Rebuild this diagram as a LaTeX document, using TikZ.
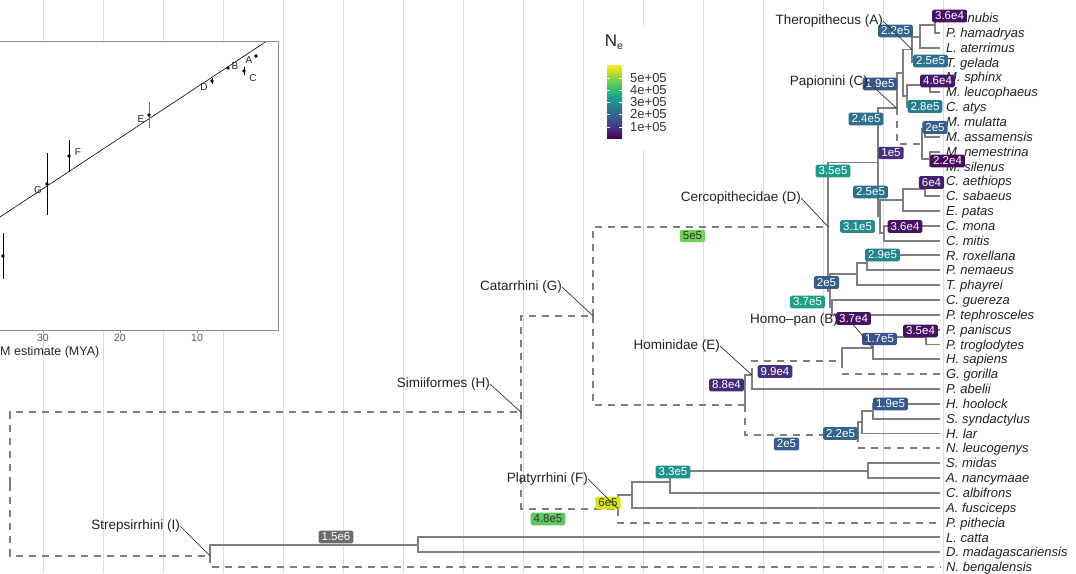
\documentclass[tikz,border=0pt]{standalone}
\usepackage{fontspec}
\setmainfont{Liberation Sans}
\usetikzlibrary{calc}

% tree and panel colours
\definecolor{treegray}{HTML}{7F7F7F}
\definecolor{gridgray}{HTML}{DCDCDC}
\definecolor{txtdark}{HTML}{222222}
% viridis-based fills for the Ne labels
\definecolor{vA}{HTML}{46085C}
\definecolor{vB}{HTML}{471063}
\definecolor{vC}{HTML}{481769}
\definecolor{vD}{HTML}{481F70}
\definecolor{vE}{HTML}{482878}
\definecolor{vF}{HTML}{472F7D}
\definecolor{vG}{HTML}{3B528B}
\definecolor{vH}{HTML}{375A8C}
\definecolor{vI}{HTML}{355E8D}
\definecolor{vJ}{HTML}{31668E}
\definecolor{vK}{HTML}{2E6E8E}
\definecolor{vL}{HTML}{2C728E}
\definecolor{vM}{HTML}{277F8E}
\definecolor{vN}{HTML}{25838E}
\definecolor{vO}{HTML}{238A8D}
\definecolor{vP}{HTML}{21918C}
\definecolor{vQ}{HTML}{1F9A8A}
\definecolor{vR}{HTML}{1FA188}
\definecolor{vS}{HTML}{5EC962}
\definecolor{vT}{HTML}{73D056}
\definecolor{vU}{HTML}{DCE319}
\definecolor{vNA}{HTML}{6B6B6B}
% colour bar stops
\definecolor{cb0}{HTML}{440154}
\definecolor{cb1}{HTML}{482475}
\definecolor{cb2}{HTML}{414487}
\definecolor{cb3}{HTML}{355F8D}
\definecolor{cb4}{HTML}{2A788E}
\definecolor{cb5}{HTML}{21918C}
\definecolor{cb6}{HTML}{22A884}
\definecolor{cb7}{HTML}{44BF70}
\definecolor{cb8}{HTML}{7AD151}
\definecolor{cb9}{HTML}{BDDF26}
\definecolor{cb10}{HTML}{FDE725}

% internal node: x position given, y halfway between two children
\newcommand\treenode[4]{\coordinate (#1m) at ($(#3)!0.5!(#4)$);\coordinate (#1) at (#2,0 |- #1m);}
\newcommand\sedge[2]{\draw[br] (#1) |- (#2);}
\newcommand\dedge[2]{\draw[brd] (#1) |- (#2);}
\newcommand\nebox[6][]{\node[nb,fill=#5,#1] (#2) at (#3,#4) {#6};}

\begin{document}
\begin{tikzpicture}[x=1pt,y=-1pt,
  br/.style={draw=treegray,line width=1.9pt},
  brd/.style={br,dash pattern=on 7pt off 6pt},
  gridl/.style={draw=gridgray,line width=0.9pt},
  tip/.style={anchor=base west,inner sep=0pt,font=\fontsize{13}{14}\selectfont\itshape,text=txtdark},
  nb/.style={rounded corners=1.5pt,inner xsep=3pt,inner ysep=2.2pt,font=\fontsize{11.5}{12}\selectfont,text=white},
  darktext/.style={text=black!80},
  clab/.style={inner sep=0pt,font=\fontsize{13.5}{15}\selectfont,text=txtdark},
  lead/.style={draw=black!80,line width=0.7pt},
  ins/.style={inner sep=0pt,font=\fontsize{10}{11}\selectfont,text=black!85},
  errb/.style={draw=black,line width=0.8pt},
  dot/.style={circle,fill=black,inner sep=0pt,minimum size=3.8pt},
  legl/.style={anchor=west,inner sep=0pt,font=\fontsize{13}{13}\selectfont,text=black!80},
]
\clip (0,0) rectangle (1076,573);
\fill[white] (0,0) rectangle (1076,573);

% vertical time grid
\foreach \gx in {43,103,...,943} \draw[gridl] (\gx,0) -- (\gx,573);

% ---------- inset: calibration plot ----------
\fill[white] (-5,41) rectangle (278,330);
\begin{scope}
  \clip (-5,41) rectangle (278,330);
  \draw[black,line width=0.6pt] (-5,220.3) -- (270,39);
  \draw[errb] (3,233) -- (3,279);
  \draw[errb] (47,153) -- (47,215);
  \draw[errb] (69,140) -- (69,172);
  \draw[errb,draw=black!55] (149,102) -- (149,128);
  \draw[errb] (212,78) -- (212,84);
  \draw[errb] (244,67) -- (244,75);
  \node[dot] (pH) at (3,256) {};
  \node[dot] (pG) at (47,184) {};
  \node[dot] (pF) at (69,156) {};
  \node[dot] (pE) at (149,115) {};
  \node[dot] (pD) at (212,81) {};
  \node[dot] (pB) at (228,68) {};
  \node[dot] (pC) at (244,71) {};
  \node[dot] (pA) at (256,56) {};
  \node[ins] (lA) at (249,60) {A};
  \node[ins] (lB) at (235,66) {B};
  \node[ins] (lC) at (253,78) {C};
  \node[ins] (lD) at (204,87) {D};
  \node[ins] (lE) at (141,119) {E};
  \node[ins] (lF) at (78,152) {F};
  \node[ins] (lG) at (38,190) {G};
\end{scope}
\draw[draw=black!45,line width=0.8pt] (-5,41) rectangle (278,330);
\foreach \tx/\tl in {43/30,120/20,197/10}{
  \draw[draw=black!45,line width=0.6pt] (\tx,330) -- (\tx,332.5);
  \node[inner sep=0pt,font=\fontsize{10.5}{11}\selectfont,text=black!65] (tk\tl) at (\tx,338) {\tl};
}
\node[anchor=west,inner sep=0pt,font=\fontsize{12.5}{13}\selectfont,text=black!85] (xtitle) at (0,352) {M estimate (MYA)};

% ---------- legend ----------
\fill[white] (590,27) rectangle (700,150);
\node[inner sep=0pt,font=\fontsize{17}{17}\selectfont,text=black!85] (netitle) at (614,42) {N\raisebox{-0.35ex}{\fontsize{10.5}{10.5}\selectfont e}};
\foreach \k [evaluate=\k as \ka using int(\k+1)] in {0,...,9}{
  \shade[bottom color=cb\k,top color=cb\ka] (607,{138-7.3*\k}) rectangle (622,{138-7.3*(\k+1)+0.3});
}
\foreach \ly/\lt in {78/5e+05,90/4e+05,102/3e+05,114.5/2e+05,127/1e+05}{
  \draw[white,line width=0.7pt] (607,\ly) -- (610,\ly) (619,\ly) -- (622,\ly);
  \node[legl] (leg\lt) at (630,\ly) {\lt};
}

% ---------- tips ----------
\foreach \i/\nm in {1/P. anubis,2/P. hamadryas,3/L. aterrimus,4/T. gelada,5/M. sphinx,
  6/M. leucophaeus,7/C. atys,8/M. mulatta,9/M. assamensis,10/M. nemestrina,
  11/M. silenus,12/C. aethiops,13/C. sabaeus,14/E. patas,15/C. mona,16/C. mitis,
  17/R. roxellana,18/P. nemaeus,19/T. phayrei,20/C. guereza,21/P. tephrosceles,
  22/P. paniscus,23/P. troglodytes,24/H. sapiens,25/G. gorilla,26/P. abelii,
  27/H. hoolock,28/S. syndactylus,29/H. lar,30/N. leucogenys,31/S. midas,
  32/A. nancymaae,33/C. albifrons,34/A. fusciceps,35/P. pithecia,36/L. catta,
  37/D. madagascariensis,38/N. bengalensis}{
  \pgfmathsetmacro\ty{18+14.84*(\i-1)}
  \coordinate (t\i) at (940,\ty);
  \node[tip] (tl\i) at (946,\ty+4.6) {\nm};
}

% ---------- internal nodes ----------
% Papionini
\treenode{papio}{935}{t1}{t2}
\treenode{pl}{920}{papio}{t3}
\treenode{papina}{912}{pl}{t4}
\treenode{mand}{930}{t5}{t6}
\treenode{mc}{907}{mand}{t7}
\treenode{pap}{903}{papina}{mc}
\treenode{maca}{925}{t8}{t9}
\treenode{macb}{930}{t10}{t11}
\treenode{macaca}{922}{maca}{macb}
\treenode{papionini}{897}{pap}{macaca}
% Cercopithecini
\treenode{chl}{925}{t12}{t13}
\treenode{chp}{903}{chl}{t14}
\treenode{mm}{884}{t15}{t16}
\treenode{cerc}{880}{chp}{mm}
\treenode{cercinae}{878}{papionini}{cerc}
% Colobinae
\treenode{rn}{867}{t17}{t18}
\treenode{asian}{857}{rn}{t19}
\treenode{afr}{832}{t20}{t21}
\treenode{colob}{830}{asian}{afr}
\treenode{cercid}{828}{cercinae}{colob}
% Hominoidea
\treenode{pan}{926}{t22}{t23}
\treenode{hp}{873}{pan}{t24}
\treenode{hgor}{842}{hp}{t25}
\treenode{homid}{752}{hgor}{t26}
\treenode{hs}{873}{t27}{t28}
\treenode{hl}{862}{hs}{t29}
\treenode{hyl}{858}{hl}{t30}
\treenode{hoid}{745}{homid}{hyl}
\treenode{catar}{593}{cercid}{hoid}
% Platyrrhini
\treenode{sa}{868}{t31}{t32}
\treenode{sac}{670}{sa}{t33}
\treenode{saca}{632}{sac}{t34}
\treenode{platy}{618}{saca}{t35}
\treenode{simii}{521}{catar}{platy}
% Strepsirrhini and root
\treenode{lem}{418}{t36}{t37}
\treenode{strep}{210}{lem}{t38}
\treenode{root}{10}{simii}{strep}

% ---------- branches ----------
\sedge{papio}{t1}\sedge{papio}{t2}
\sedge{pl}{papio}\sedge{pl}{t3}
\sedge{papina}{pl}\sedge{papina}{t4}
\sedge{mand}{t5}\sedge{mand}{t6}
\sedge{mc}{mand}\sedge{mc}{t7}
\sedge{pap}{papina}\sedge{pap}{mc}
\sedge{maca}{t8}\sedge{maca}{t9}
\sedge{macb}{t10}\sedge{macb}{t11}
\sedge{macaca}{maca}\sedge{macaca}{macb}
\sedge{papionini}{pap}\dedge{papionini}{macaca}
\sedge{chl}{t12}\sedge{chl}{t13}
\sedge{chp}{chl}\sedge{chp}{t14}
\sedge{mm}{t15}\sedge{mm}{t16}
\sedge{cerc}{chp}\sedge{cerc}{mm}
\sedge{cercinae}{papionini}\sedge{cercinae}{cerc}
\sedge{rn}{t17}\sedge{rn}{t18}
\sedge{asian}{rn}\sedge{asian}{t19}
\sedge{afr}{t20}\sedge{afr}{t21}
\sedge{colob}{asian}\sedge{colob}{afr}
\sedge{cercid}{cercinae}\sedge{cercid}{colob}
\sedge{pan}{t22}\sedge{pan}{t23}
\sedge{hp}{pan}\sedge{hp}{t24}
\sedge{hgor}{hp}\dedge{hgor}{t25}
\dedge{homid}{hgor}\sedge{homid}{t26}
\sedge{hs}{t27}\sedge{hs}{t28}
\sedge{hl}{hs}\sedge{hl}{t29}
\sedge{hyl}{hl}\dedge{hyl}{t30}
\sedge{hoid}{homid}\dedge{hoid}{hyl}
\dedge{catar}{cercid}\dedge{catar}{hoid}
\sedge{sa}{t31}\sedge{sa}{t32}
\sedge{sac}{sa}\sedge{sac}{t33}
\sedge{saca}{sac}\sedge{saca}{t34}
\sedge{platy}{saca}\dedge{platy}{t35}
\dedge{simii}{catar}\dedge{simii}{platy}
\sedge{lem}{t36}\sedge{lem}{t37}
\sedge{strep}{lem}\dedge{strep}{t38}
\dedge{root}{simii}\dedge{root}{strep}

% ---------- Ne labels ----------
\nebox{b1}{949.5}{16}{vB}{3.6e4}
\nebox{b2}{895.5}{31}{vJ}{2.2e5}
\nebox{b3}{930.5}{61}{vL}{2.5e5}
\nebox{b4}{937.5}{81}{vC}{4.6e4}
\nebox{b5}{880}{84}{vH}{1.9e5}
\nebox{b6}{925}{106.5}{vM}{2.8e5}
\nebox{b7}{866}{119}{vK}{2.4e5}
\nebox{b8}{935}{127.5}{vI}{2e5}
\nebox{b9}{891}{153}{vF}{1e5}
\nebox{b10}{947.5}{161}{vA}{2.2e4}
\nebox{b11}{833}{171}{vQ}{3.5e5}
\nebox{b12}{931.5}{182.5}{vD}{6e4}
\nebox{b13}{870.5}{192}{vL}{2.5e5}
\nebox{b14}{857.5}{226.5}{vO}{3.1e5}
\nebox{b15}{905}{226.5}{vB}{3.6e4}
\nebox[darktext]{b16}{692.5}{236}{vT}{5e5}
\nebox{b17}{882.5}{255}{vN}{2.9e5}
\nebox{b18}{826.5}{282.5}{vI}{2e5}
\nebox{b19}{807.5}{302}{vR}{3.7e5}
\nebox{b21}{920.5}{331}{vB}{3.5e4}
\nebox{b22}{879.5}{339}{vG}{1.7e5}
\nebox{b23}{775}{371.5}{vF}{9.9e4}
\nebox{b24}{726.5}{385}{vE}{8.8e4}
\nebox{b25}{890.5}{404}{vH}{1.9e5}
\nebox{b26}{840.5}{433.5}{vJ}{2.2e5}
\nebox{b27}{786.5}{444}{vI}{2e5}
\nebox{b28}{673}{472}{vP}{3.3e5}
\nebox[darktext]{b29}{608}{503}{vU}{6e5}
\nebox[darktext]{b30}{548}{519}{vS}{4.8e5}
\nebox{b31}{336}{537}{vNA}{1.5e6}

% ---------- clade labels ----------
\node[clab,anchor=east] (cA) at (883,21) {Theropithecus (A)};
\node[clab,anchor=east] (cC) at (868,82) {Papionini (C)};
\node[clab,anchor=east] (cD) at (801,198) {Cercopithecidae (D)};
\node[clab,anchor=east] (cG) at (562,287) {Catarrhini (G)};
\node[clab,anchor=east] (cH) at (490,384) {Simiiformes (H)};
\node[clab,anchor=east] (cE) at (720,346) {Hominidae (E)};
\node[clab,anchor=west] (cB) at (750,320) {Homo--pan (B)};
\node[clab,anchor=east] (cF) at (588,479) {Platyrrhini (F)};
\node[clab,anchor=east] (cI) at (180,526) {Strepsirrhini (I)};
% this Ne label sits over the end of the Homo-pan label
\nebox{b20}{853.5}{318.5}{vB}{3.7e4}

\draw[lead] (cA.east) -- (papina);
\draw[lead] (cC.east) -- (papionini);
\draw[lead] (cD.east) -- (cercid);
\draw[lead] (cG.east) -- (catar);
\draw[lead] (cH.east) -- (simii);
\draw[lead] (cE.east) -- (homid);
\draw[lead] (b20.south) -- (hp);
\draw[lead] (cF.east) -- (platy);
\draw[lead] (cI.east) -- (strep);
\end{tikzpicture}
\end{document}
